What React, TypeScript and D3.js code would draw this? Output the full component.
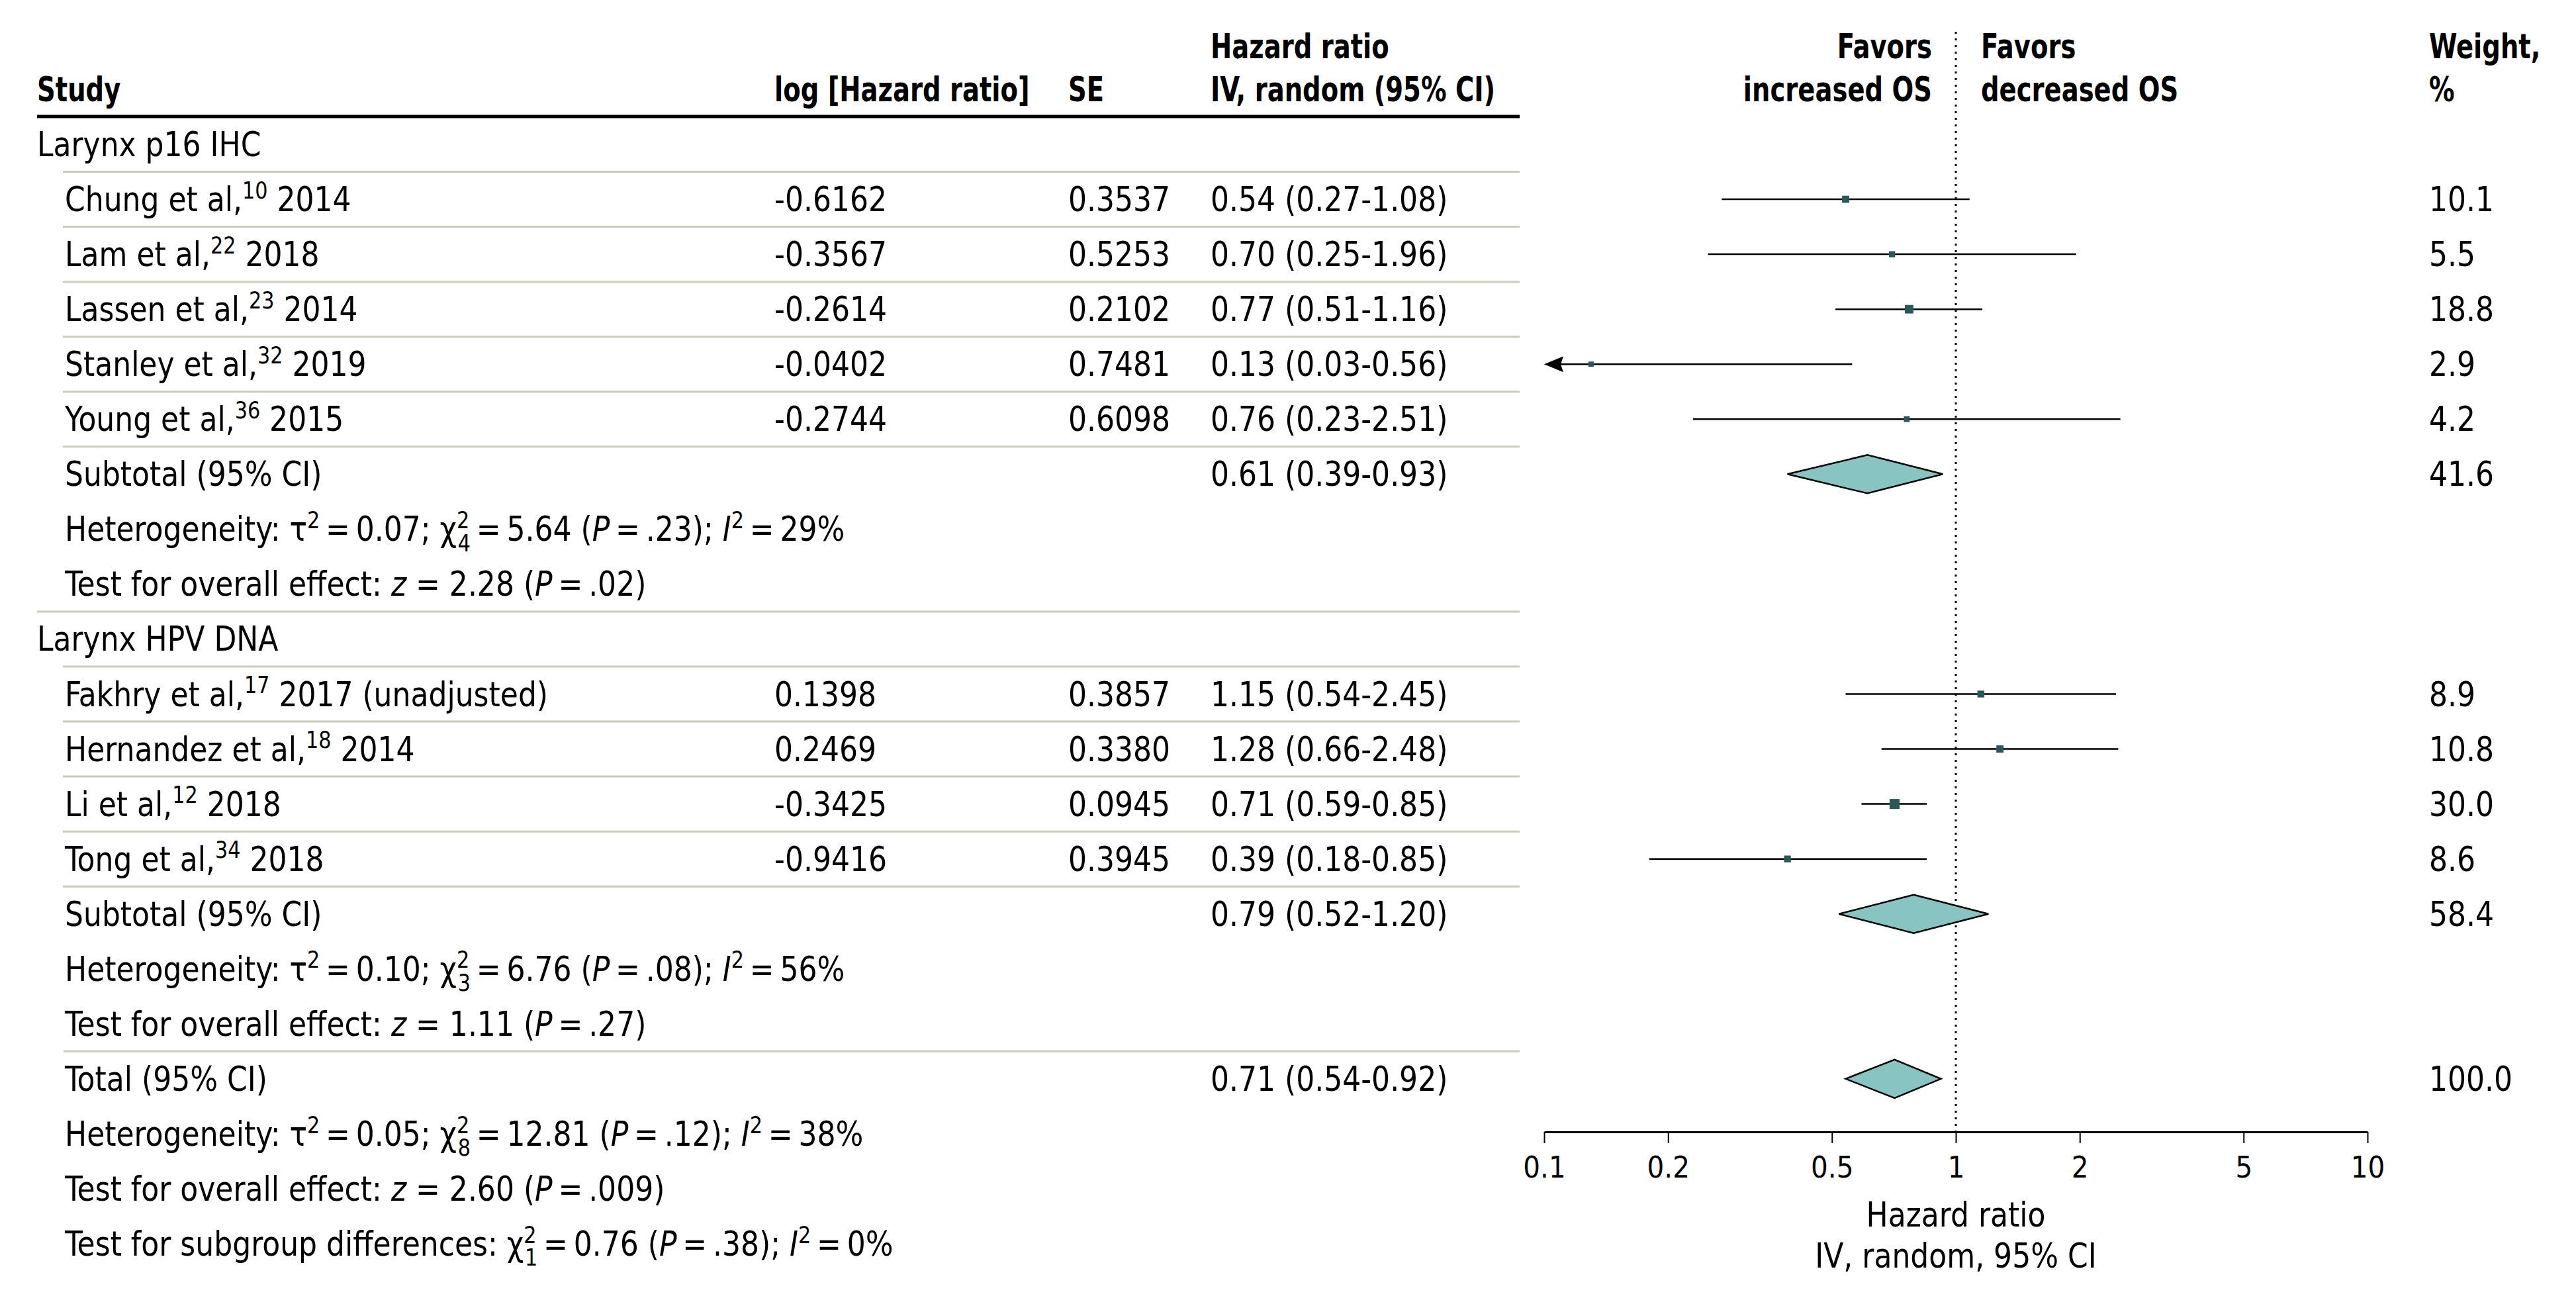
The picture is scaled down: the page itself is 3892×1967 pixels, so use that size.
import React, { useEffect, useRef } from 'react';
import * as d3 from 'd3';

// ---------- data ----------
const groupNames = ['Larynx p16 IHC', 'Larynx HPV DNA'];
const studyAuthors = ['Chung et al,', 'Lam et al,', 'Lassen et al,', 'Stanley et al,', 'Young et al,', 'Fakhry et al,', 'Hernandez et al,', 'Li et al,', 'Tong et al,'];
const studyRefs = ['10', '22', '23', '32', '36', '17', '18', '12', '34'];
const studyYears = ['2014', '2018', '2014', '2019', '2015', '2017 (unadjusted)', '2014', '2018', '2018'];
const studyGroup = [0, 0, 0, 0, 0, 1, 1, 1, 1];
const logHR = [-0.6162, -0.3567, -0.2614, -0.0402, -0.2744, 0.1398, 0.2469, -0.3425, -0.9416];
const seValues = [0.3537, 0.5253, 0.2102, 0.7481, 0.6098, 0.3857, 0.3380, 0.0945, 0.3945];
const hrValues = [0.54, 0.70, 0.77, 0.13, 0.76, 1.15, 1.28, 0.71, 0.39];
const ciLower = [0.27, 0.25, 0.51, 0.03, 0.23, 0.54, 0.66, 0.59, 0.18];
const ciUpper = [1.08, 1.96, 1.16, 0.56, 2.51, 2.45, 2.48, 0.85, 0.85];
const weights = [10.1, 5.5, 18.8, 2.9, 4.2, 8.9, 10.8, 30.0, 8.6];

const summaryLabels = ['Subtotal (95% CI)', 'Subtotal (95% CI)', 'Total (95% CI)'];
const summaryHR = [0.61, 0.79, 0.71];
const summaryLower = [0.39, 0.52, 0.54];
const summaryUpper = [0.93, 1.20, 0.92];
const summaryWeights = [41.6, 58.4, 100.0];

const hetTau2 = ['0.07', '0.10', '0.05'];
const hetDf = ['4', '3', '8'];
const hetChi2 = ['5.64', '6.76', '12.81'];
const hetP = ['.23', '.08', '.12'];
const hetI2 = ['29', '56', '38'];
const overallZ = ['2.28', '1.11', '2.60'];
const overallP = ['.02', '.27', '.009'];
const subgroupDf = '1';
const subgroupChi2 = '0.76';
const subgroupP = '.38';
const subgroupI2 = '0';

const axisTicks = [0.1, 0.2, 0.5, 1, 2, 5, 10];

// ---------- layout ----------
const W = 3892;
const H = 1967;
const FONT = '"Liberation Sans Narrow", "DejaVu Sans Condensed", "Arial Narrow", sans-serif';
const FS = 51;
const HEAD_SX = 0.84;
const TEXT_SX = 0.96;
const X_GROUP = 56;
const X_STUDY = 98;
const X_LOG = 1170;
const X_SE = 1614;
const X_HR = 1829;
const X_WEIGHT = 3670;
const TABLE_RIGHT = 2296;
const AXIS_Y = 1710;
const SQUARE_FILL = '#285956';
const DIAMOND_FILL = '#87c4c2';
const SEP_COLOR = '#c9ccbf';
const EQ = '\u2009=\u2009';

type Seg = { t: string; i?: boolean; sup?: string; sub?: string };
type Row =
  | { kind: 'group'; g: number }
  | { kind: 'study'; s: number }
  | { kind: 'summary'; k: number }
  | { kind: 'het'; k: number }
  | { kind: 'overall'; k: number }
  | { kind: 'subgroup' };

const rows: Row[] = [];
groupNames.forEach((_, g) => {
  rows.push({ kind: 'group', g });
  studyGroup.forEach((sg, s) => {
    if (sg === g) rows.push({ kind: 'study', s });
  });
  rows.push({ kind: 'summary', k: g });
  rows.push({ kind: 'het', k: g });
  rows.push({ kind: 'overall', k: g });
});
rows.push({ kind: 'summary', k: 2 });
rows.push({ kind: 'het', k: 2 });
rows.push({ kind: 'overall', k: 2 });
rows.push({ kind: 'subgroup' });

const yScale = d3.scaleLinear().domain([0, 20]).range([218, 1879]);
const xScale = d3.scaleLog().domain([0.1, 10]).range([2333, 3577]);
const sizeScale = d3.scalePow().exponent(0.5).domain([2.9, 30]).range([8, 15]);

function Rich({ x, y, segs, size = FS, weight = 400, sx = TEXT_SX }: { x: number; y: number; segs: Seg[]; size?: number; weight?: number; sx?: number }) {
  const small = Math.round(size * 0.68);
  const raise = size * 0.38;
  const drop = size * 0.3;
  const out: React.ReactNode[] = [];
  let off = 0;
  segs.forEach((s, k) => {
    out.push(
      <tspan key={k + 't'} dy={-off} fontStyle={s.i ? 'italic' : 'normal'} fontSize={size}>
        {s.t}
      </tspan>
    );
    off = 0;
    if (s.sup) {
      out.push(
        <tspan key={k + 'p'} dy={-raise} fontSize={small} fontStyle="normal">
          {s.sup}
        </tspan>
      );
      off = -raise;
    }
    if (s.sub) {
      const dx = s.sup ? -small * 0.52 * s.sup.length : 0;
      out.push(
        <tspan key={k + 'b'} dx={dx} dy={-off + drop} fontSize={small} fontStyle="normal">
          {s.sub}
        </tspan>
      );
      off = drop;
    }
  });
  return (
    <text transform={`translate(${x},${y}) scale(${sx},1)`} x={0} y={0} fontFamily={FONT} fontSize={size} fontWeight={weight} fill="#000" style={{ whiteSpace: 'pre' }}>
      {out}
    </text>
  );
}

function hetSegs(k: number): Seg[] {
  return [
    { t: 'Heterogeneity: τ', sup: '2' },
    { t: EQ + hetTau2[k] + '; χ', sup: '2', sub: hetDf[k] },
    { t: EQ + hetChi2[k] + ' (' },
    { t: 'P', i: true },
    { t: EQ + hetP[k] + '); ' },
    { t: 'I', i: true, sup: '2' },
    { t: EQ + hetI2[k] + '%' },
  ];
}

function overallSegs(k: number): Seg[] {
  return [
    { t: 'Test for overall effect: ' },
    { t: 'z', i: true },
    { t: ' = ' + overallZ[k] + ' (' },
    { t: 'P', i: true },
    { t: EQ + overallP[k] + ')' },
  ];
}

const subgroupSegs: Seg[] = [
  { t: 'Test for subgroup differences: χ', sup: '2', sub: subgroupDf },
  { t: EQ + subgroupChi2 + ' (' },
  { t: 'P', i: true },
  { t: EQ + subgroupP + '); ' },
  { t: 'I', i: true, sup: '2' },
  { t: EQ + subgroupI2 + '%' },
];

function Txt({ x, y, children, weight = 400, anchor = 'start', size = FS, sx = TEXT_SX }: any) {
  return (
    <text
      transform={`translate(${x},${y}) scale(${sx},1)`}
      x={0}
      y={0}
      fontFamily={FONT}
      fontSize={size}
      fontWeight={weight}
      textAnchor={anchor}
      fill="#000"
      style={{ whiteSpace: 'pre' }}
    >
      {children}
    </text>
  );
}

function Head(props: any) {
  return <Txt {...props} weight={700} sx={HEAD_SX} />;
}

const fmtCI = (hr: number, lo: number, hi: number) => `${hr.toFixed(2)} (${lo.toFixed(2)}-${hi.toFixed(2)})`;

export default function App() {
  const axisRef = useRef<SVGGElement>(null);

  useEffect(() => {
    if (!axisRef.current) return;
    const axis = d3
      .axisBottom(xScale)
      .tickValues(axisTicks)
      .tickFormat((d: any) => String(d))
      .tickSize(17)
      .tickSizeOuter(0)
      .tickPadding(20);
    const g = d3.select(axisRef.current);
    g.call(axis as any);
    g.select('.domain').attr('stroke', '#000').attr('stroke-width', 3);
    g.selectAll('.tick line').attr('stroke', '#000').attr('stroke-width', 2);
    g.selectAll('.tick text')
      .attr('font-family', FONT)
      .attr('font-size', 45)
      .attr('fill', '#000');
  }, []);

  const baseline = (i: number) => yScale(i) + 18;
  const half = (yScale(1) - yScale(0)) / 2;

  const elements: React.ReactNode[] = [];
  const seps: React.ReactNode[] = [];

  rows.forEach((r, i) => {
    const yc = yScale(i);
    const yb = baseline(i);
    if (r.kind === 'group') {
      elements.push(<Txt key={'g' + i} x={X_GROUP} y={yb}>{groupNames[r.g]}</Txt>);
      seps.push(<line key={'s' + i} x1={95} x2={TABLE_RIGHT} y1={yc + half} y2={yc + half} stroke={SEP_COLOR} strokeWidth={3} />);
    } else if (r.kind === 'study') {
      const s = r.s;
      elements.push(
        <Rich key={'n' + i} x={X_STUDY} y={yb} segs={[{ t: studyAuthors[s], sup: studyRefs[s] }, { t: ' ' + studyYears[s] }]} />
      );
      elements.push(<Txt key={'l' + i} x={X_LOG} y={yb}>{logHR[s].toFixed(4)}</Txt>);
      elements.push(<Txt key={'e' + i} x={X_SE} y={yb}>{seValues[s].toFixed(4)}</Txt>);
      elements.push(<Txt key={'h' + i} x={X_HR} y={yb}>{fmtCI(hrValues[s], ciLower[s], ciUpper[s])}</Txt>);
      elements.push(<Txt key={'w' + i} x={X_WEIGHT} y={yb}>{weights[s].toFixed(1)}</Txt>);
      // CI line
      const [d0, d1] = xScale.domain();
      const loClip = ciLower[s] < d0;
      const x0 = xScale(Math.max(ciLower[s], d0));
      const x1 = xScale(Math.min(ciUpper[s], d1));
      elements.push(<line key={'c' + i} x1={loClip ? x0 + 20 : x0} x2={x1} y1={yc} y2={yc} stroke="#000" strokeWidth={2.5} />);
      if (loClip) {
        elements.push(
          <polygon
            key={'a' + i}
            points={`${x0},${yc} ${x0 + 29},${yc - 12} ${x0 + 25},${yc} ${x0 + 29},${yc + 12}`}
            fill="#000"
          />
        );
      }
      const sz = sizeScale(weights[s]);
      elements.push(
        <rect key={'q' + i} x={xScale(hrValues[s]) - sz / 2} y={yc - sz / 2} width={sz} height={sz} fill={SQUARE_FILL} />
      );
      seps.push(<line key={'s' + i} x1={95} x2={TABLE_RIGHT} y1={yc + half} y2={yc + half} stroke={SEP_COLOR} strokeWidth={3} />);
    } else if (r.kind === 'summary') {
      const k = r.k;
      elements.push(<Txt key={'m' + i} x={X_STUDY} y={yb}>{summaryLabels[k]}</Txt>);
      elements.push(<Txt key={'mh' + i} x={X_HR} y={yb}>{fmtCI(summaryHR[k], summaryLower[k], summaryUpper[k])}</Txt>);
      elements.push(<Txt key={'mw' + i} x={X_WEIGHT} y={yb}>{summaryWeights[k].toFixed(1)}</Txt>);
      const dh = 29;
      const pts = [
        [xScale(summaryLower[k]), yc],
        [xScale(summaryHR[k]), yc - dh],
        [xScale(summaryUpper[k]), yc],
        [xScale(summaryHR[k]), yc + dh],
      ]
        .map((p) => p.join(','))
        .join(' ');
      elements.push(<polygon key={'d' + i} points={pts} fill={DIAMOND_FILL} stroke="#000" strokeWidth={2.5} strokeLinejoin="miter" />);
    } else if (r.kind === 'het') {
      elements.push(<Rich key={'t' + i} x={X_STUDY} y={yb} segs={hetSegs(r.k)} />);
    } else if (r.kind === 'overall') {
      elements.push(<Rich key={'o' + i} x={X_STUDY} y={yb} segs={overallSegs(r.k)} />);
      if (r.k < 2) {
        const sx = r.k === 0 ? X_GROUP : 96;
        seps.push(<line key={'s' + i} x1={sx} x2={TABLE_RIGHT} y1={yc + half} y2={yc + half} stroke={SEP_COLOR} strokeWidth={3} />);
      }
    } else if (r.kind === 'subgroup') {
      elements.push(<Rich key={'u' + i} x={X_STUDY} y={yb} segs={subgroupSegs} />);
    }
  });

  const xOne = xScale(1);

  return (
    <svg width={W} height={H} viewBox={`0 0 ${W} ${H}`} style={{ position: 'absolute', left: 0, top: 0, display: 'block', background: '#fff' }}>
      <rect x={0} y={0} width={W} height={H} fill="#fff" />
      {/* header */}
      <Head x={X_GROUP} y={153}>Study</Head>
      <Head x={X_LOG} y={153}>log [Hazard ratio]</Head>
      <Head x={X_SE} y={153}>SE</Head>
      <Head x={X_HR} y={88}>Hazard ratio</Head>
      <Head x={X_HR} y={153}>IV, random (95% CI)</Head>
      <Head x={xOne - 36} y={88} anchor="end">Favors</Head>
      <Head x={xOne - 36} y={153} anchor="end">increased OS</Head>
      <Head x={xOne + 38} y={88}>Favors</Head>
      <Head x={xOne + 38} y={153}>decreased OS</Head>
      <Head x={X_WEIGHT} y={88}>Weight,</Head>
      <Head x={X_WEIGHT} y={153}>%</Head>
      <line x1={X_GROUP} x2={TABLE_RIGHT} y1={176} y2={176} stroke="#000" strokeWidth={5} />
      {seps}
      {/* null line */}
      <line x1={xOne} x2={xOne} y1={48} y2={AXIS_Y} stroke="#000" strokeWidth={3} strokeDasharray="3 7" />
      {elements}
      <g ref={axisRef} transform={`translate(0,${AXIS_Y})`} />
      <Txt x={xOne} y={1853} anchor="middle">Hazard ratio</Txt>
      <Txt x={xOne} y={1915} anchor="middle">IV, random, 95% CI</Txt>
    </svg>
  );
}
